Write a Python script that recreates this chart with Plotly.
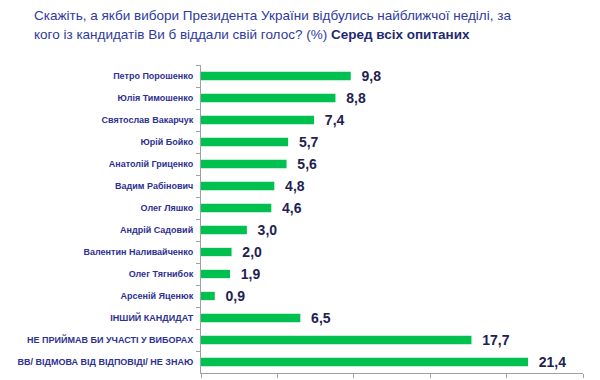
import plotly.graph_objects as go

categories = [
    "Петро Порошенко",
    "Юлія Тимошенко",
    "Святослав Вакарчук",
    "Юрій Бойко",
    "Анатолій Гриценко",
    "Вадим Рабінович",
    "Олег Ляшко",
    "Андрій Садовий",
    "Валентин Наливайченко",
    "Олег Тягнибок",
    "Арсеній Яценюк",
    "ІНШИЙ КАНДИДАТ",
    "НЕ ПРИЙМАВ БИ УЧАСТІ У ВИБОРАХ",
    "ВВ/ ВІДМОВА ВІД ВІДПОВІДІ/ НЕ ЗНАЮ",
]
values = [9.8, 8.8, 7.4, 5.7, 5.6, 4.8, 4.6, 3.0, 2.0, 1.9, 0.9, 6.5, 17.7, 21.4]
x_ticks = [0, 5, 10, 15, 20, 25]
title_lines = [
    "Скажіть, а якби вибори Президента України відбулись найближчої неділі, за",
    "кого із кандидатів Ви б віддали свій голос? (%) <b style='color:#1F2A70'>Серед всіх опитаних</b>",
]

labels = ["  " + f"{v:.1f}".replace(".", ",") for v in values]

W, H = 600, 380
# page body has an 8px offset; margins compensate
L, R, T, B = 193, 25, 57, 15
pw, ph = W - L - R, H - T - B

fig = go.Figure(go.Bar(
    x=values, y=categories, orientation="h",
    marker=dict(color="#00C050", line=dict(width=0)),
    width=0.38,
    text=labels, textposition="outside", cliponaxis=False,
    constraintext="none",
    textfont=dict(family="Arial, Liberation Sans", size=14, color="#1E2250", weight="bold"),
))

title_centers = [8, 26]  # figure-pixel y of each title line
fig.update_layout(
    width=W, height=H,
    margin=dict(l=L, r=R, t=T, b=B, autoexpand=False),
    paper_bgcolor="white", plot_bgcolor="white",
    showlegend=False,
    font=dict(family="Arial, Liberation Sans"),
    annotations=[dict(
        text=line,
        xref="paper", yref="paper",
        x=(25 - L) / pw, xanchor="left",
        y=(H - B - yc) / ph, yanchor="middle",
        showarrow=False, align="left", borderpad=0,
        font=dict(size=13.5, color="#2E3A9E", family="Arial, Liberation Sans"),
    ) for line, yc in zip(title_lines, title_centers)],
)

fig.update_xaxes(
    range=[0, 25], tickvals=x_ticks, showticklabels=False,
    ticks="outside", ticklen=4, tickcolor="#A0A0A0",
    showgrid=False, zeroline=False, showline=True, linecolor="#A0A0A0", linewidth=1,
)
fig.update_yaxes(
    autorange="reversed", tickson="boundaries", automargin=False,
    ticks="outside", ticklen=4, tickcolor="#A0A0A0",
    showgrid=False, showline=True, linecolor="#A0A0A0", linewidth=1,
    tickfont=dict(size=9, color="#2E3192", family="Arial, Liberation Sans", weight="bold"),
    ticklabelstandoff=5,
)

fig.write_html("out.html")
